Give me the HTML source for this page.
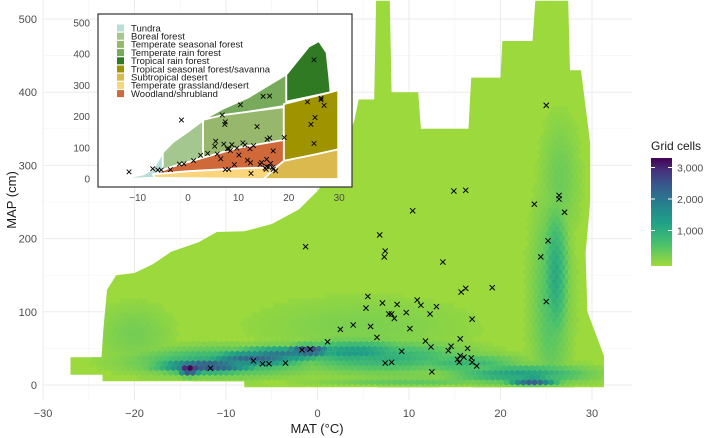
<!DOCTYPE html>
<html><head><meta charset="utf-8"><style>
body{margin:0;background:#fff;}
svg{display:block;font-family:"Liberation Sans",sans-serif;}
</style></head><body>
<svg id="chart" width="709" height="438" viewBox="0 0 709 438">
<defs><clipPath id="hullclip"><polygon id="hullclipPoly"/></clipPath>
<clipPath id="insetclip"><rect x="98" y="14" width="254" height="173"/></clipPath>
<linearGradient id="cbar" x1="0" y1="1" x2="0" y2="0">
<stop offset="0" stop-color="#a0da39"/><stop offset="0.2" stop-color="#4ac16d"/><stop offset="0.4" stop-color="#1fa187"/><stop offset="0.58" stop-color="#277f8e"/><stop offset="0.74" stop-color="#365c8d"/><stop offset="0.88" stop-color="#46337e"/><stop offset="1" stop-color="#440154"/></linearGradient></defs>
<g id="grid"></g>
<g id="hexes"></g>
<g id="marks"></g>
<g id="axes"></g>
<g id="inset"></g>
<g id="legend"></g>
</svg>
<script>
const NS="http://www.w3.org/2000/svg";
// ---- data ----
const xTicks=[-30,-20,-10,0,10,20,30];
const yTicks=[0,100,200,300,400,500];
const hullT=[-27,-23.6,-23.4,-23,-22,-20,-18,-16,-13,-11,-8,-5,-2,0,2,4,4.5,6.2,6.4,7.9,8.1,11,11.3,16.5,16.8,20,20.2,23.5,23.8,27.4,27.6,28.8,29.8,29.8,29.3,29.5,31.3,31.3,-8,-8,-23.5,-23.5,-27];
const hullP=[38,38,75,130,150,153,165,182,195,209,210,220,240,265,300,360,390,390,525,525,400,400,350,350,420,420,470,470,525,525,430,430,330,250,180,100,40,-3,-3,5,5,14,14];
const blobT=[-14,-12,-7,-1,-4,4,-10,7,23.5,22,16,25.5,26,-20,5,10,26.5];
const blobP=[22,26,36,47,42,45,32,38,5,15,30,120,150,70,80,5,280];
const blobRT=[1.2,5,5,2.5,5,6,9,9,2.5,7,6,2,1.3,4,12,10,2];
const blobRP=[8,9,10,7,10,15,18,20,6,12,12,130,90,40,40,6,80];
const blobCount=[3200,2200,1900,2500,1600,1100,900,800,2100,1000,700,500,900,250,200,400,300];
const siteT=[6.8,-1.3,7.4,7.3,13.7,24.4,25.2,25.0,19.1,16.2,15.7,5.5,7.1,8.7,10.9,11.3,13.0,5.3,9.7,7.8,8.1,8.4,12.3,16.9,3.9,2.5,5.8,10.1,6.5,1.1,11.8,15.6,12.4,14.6,16.4,14.3,9.2,-1.7,-0.8,15.6,15.3,16.0,15.5,16.8,16.9,17.4,-7.0,-6.0,-5.3,-3.5,-11.7,7.4,8.1,12.5,25.0,14.9,16.2,10.4,23.7,26.4,26.4,27.0];
const siteP=[205,189,183,175,168,175,197,114,133,132,127,121,112,110,116,109,107,105,99,97,97,91,97,90,82,76,80,77,65,59,60,63,52,53,50,47,46,48,49,40,35,38,31,37,31,26,33,29,29,30,23,30,31,18,382,265,266,238,247,259,254,236];
const legendCounts=[1000,2000,3000];
const legendLabels=["1,000","2,000","3,000"];
const biomeNames=["Tundra","Boreal forest","Temperate seasonal forest","Temperate rain forest","Tropical rain forest","Tropical seasonal forest/savanna","Subtropical desert","Temperate grassland/desert","Woodland/shrubland"];
const biomeColors=["#b9ded8","#a3c78f","#97b86c","#78aa5c","#2f7a22","#9f9400","#dcb94e","#fbd57c","#d0693a"];
const insetXTicks=[-10,0,10,20,30];
const insetYTicks=[0,100,200,300,400,500];
const tundraPoly=[[-15.5,3],[-12,5],[-9,14],[-7,30],[-5,85],[-5,5],[-10,2]];
const borealPoly=[[-5,5],[-5,85],[-3,118],[0,152],[3,188],[3,150],[3,68],[0,52],[-3,40],[-5,30]];
const tempSeasPoly=[[3,68],[3,190],[7,205],[12,216],[19,230],[19,125],[10,100]];
const tempRainPoly=[[3,190],[7,226],[12,262],[19.5,335],[19.5,235],[12,216],[7,205]];
const tropRainPoly=[[19.5,335],[22,385],[24,425],[26,442],[27.5,405],[28,330],[28.3,278],[19.5,248]];
const tropSeasPoly=[[19,240],[28.3,278],[29.8,285],[29.8,95],[25,78],[19,58]];
const subDesPoly=[[15,0],[29.8,0],[29.8,95],[25,78],[19,58],[17.5,38]];
const grassPoly=[[-6.5,4],[15,0],[17.5,38],[10,34],[0,25],[-7,15]];
const woodPoly=[[-7,15],[0,25],[10,34],[17.5,38],[19,58],[19,125],[10,100],[3,68],[-3,40]];
// ---- scales ----
const X=t=>43+(t+30)*9.15, Y=p=>385-p*0.732;
const IX=t=>188+t*5.04, IY=p=>179-p*0.312;
const stops=[[0,[156,217,60]],[500,[74,193,109]],[1000,[31,161,135]],[1500,[39,127,142]],[2000,[54,92,141]],[2500,[70,51,126]],[3150,[68,1,84]]];
function col(c){for(let i=1;i<stops.length;i++){if(c<=stops[i][0]){const a=stops[i-1],b=stops[i],f=(c-a[0])/(b[0]-a[0]);return "rgb("+a[1].map((v,k)=>Math.round(v+(b[1][k]-v)*f)).join(",")+")";}}return "rgb(68,1,84)";}
function el(tag,attrs,parent){const e=document.createElementNS(NS,tag);for(const k in attrs)e.setAttribute(k,attrs[k]);parent.appendChild(e);return e;}
// grid
const grid=document.getElementById("grid");
for(let t=-30;t<=30;t+=5){const l=el("line",{x1:X(t),x2:X(t),y1:0,y2:400,stroke:t%10===0?"#ebebeb":"#f4f4f4","stroke-width":t%10===0?1:0.6},grid);

}
for(let p=0;p<=500;p+=50){const l=el("line",{x1:43,x2:632,y1:Y(p),y2:Y(p),stroke:p%100===0?"#ebebeb":"#f4f4f4","stroke-width":p%100===0?1:0.6},grid);

}
// hull
const hexG=document.getElementById("hexes");
const pts=hullT.map((t,i)=>X(t).toFixed(1)+","+Y(hullP[i]).toFixed(1)).join(" ");
document.getElementById("hullclipPoly").setAttribute("points",pts);
const hull=el("polygon",{points:pts,fill:"#9cd93c"},hexG);


// dense hexes
const hw=5.6,hh=6.4,rs=4.8;
const dense=el("g",{"clip-path":"url(#hullclip)"},hexG);


for(let r=0;r<90;r++){const cy=Y(-3)-r*rs;const off=(r%2)*hw/2;
 for(let cx=X(-28)+off;cx<X(32);cx+=hw){const t=(cx-43)/9.15-30,p=(385-cy)/0.732;let c=0;
  for(let i=0;i<blobT.length;i++){const dt=(t-blobT[i])/blobRT[i],dp=(p-blobP[i])/blobRP[i];c=Math.max(c,blobCount[i]*Math.exp(-(dt*dt+dp*dp)));}
  if(c<60)continue;
  const h=el("polygon",{points:[[0,-hh/2],[hw/2,-hh/4],[hw/2,hh/4],[0,hh/2],[-hw/2,hh/4],[-hw/2,-hh/4]].map(q=>(cx+q[0]).toFixed(1)+","+(cy+q[1]).toFixed(1)).join(" "),fill:col(c)},dense);
  
  }}
// markers
function cross(g,x,y,s,w){const m=el("path",{d:`M${x-s},${y-s}L${x+s},${y+s}M${x-s},${y+s}L${x+s},${y-s}`,stroke:"#000","stroke-width":w,fill:"none"},g);return m;}
const marks=document.getElementById("marks");
siteT.forEach((t,i)=>{const m=cross(marks,X(t),Y(siteP[i]),2.6,1);

});
// axes
const ax=document.getElementById("axes");
xTicks.forEach(t=>{const e=el("text",{x:X(t),y:417,"text-anchor":"middle","font-size":11,fill:"#4d4d4d"},ax);e.textContent=t<0?"\u2212"+(-t):t;

});
yTicks.forEach(p=>{const e=el("text",{x:37,y:Y(p)+4,"text-anchor":"end","font-size":11,fill:"#4d4d4d"},ax);e.textContent=p;

});
const xt=el("text",{x:317,y:433,"text-anchor":"middle","font-size":13,fill:"#1a1a1a"},ax);xt.textContent="MAT (\u00b0C)";


const yt=el("text",{x:0,y:0,"text-anchor":"middle","font-size":13,fill:"#1a1a1a",transform:"translate(16,200) rotate(-90)"},ax);yt.textContent="MAP (cm)";


// inset
const ins=document.getElementById("inset");
const ibg=el("rect",{x:98,y:14,width:254,height:173,fill:"#fff",stroke:"#333","stroke-width":1.2},ins);


const ipl=el("g",{"clip-path":"url(#insetclip)"},ins);
[tundraPoly,borealPoly,tempSeasPoly,tempRainPoly,tropRainPoly,tropSeasPoly,subDesPoly,grassPoly,woodPoly].forEach((poly,i)=>{
 const pg=el("polygon",{points:poly.map(q=>IX(q[0]).toFixed(1)+","+IY(q[1]).toFixed(1)).join(" "),fill:biomeColors[i],stroke:"#fff","stroke-width":1.8,"stroke-linejoin":"round"},ipl);
 
 });
siteT.forEach((t,i)=>{const m=cross(ipl,IX(t),IY(siteP[i]),2.3,0.9);

});
insetXTicks.forEach(t=>{const e=el("text",{x:IX(t),y:201,"text-anchor":"middle","font-size":10,fill:"#4d4d4d"},ins);e.textContent=t<0?"\u2212"+(-t):t;

});
insetYTicks.forEach(p=>{const e=el("text",{x:90,y:IY(p)+3.5,"text-anchor":"end","font-size":10,fill:"#4d4d4d"},ins);e.textContent=p;

});
biomeNames.forEach((n,i)=>{const y=28+i*8.2;
 const s=el("rect",{x:117,y:y-3.5,width:7,height:7,fill:biomeColors[i]},ins);
 
 
 const tx=el("text",{x:131,y:y+3.3,"font-size":9.5,fill:"#1a1a1a"},ins);tx.textContent=n;
 
 });
// legend
const lg=document.getElementById("legend");
const lt=el("text",{x:651,y:150,"font-size":12,fill:"#1a1a1a"},lg);lt.textContent="Grid cells";


const cb=el("rect",{x:651,y:158,width:21,height:108,fill:"url(#cbar)"},lg);


const LY=c=>262-c*0.0315;
legendCounts.forEach((c,i)=>{
 const a=el("line",{x1:651,x2:655,y1:LY(c),y2:LY(c),stroke:"#fff","stroke-width":1},lg);
 
 
 const b=el("line",{x1:668,x2:672,y1:LY(c),y2:LY(c),stroke:"#fff","stroke-width":1},lg);
 
 
 const tx=el("text",{x:677,y:LY(c)+4,"font-size":10.5,fill:"#4d4d4d"},lg);tx.textContent=legendLabels[i];
 
 });
</script>
</body></html>
